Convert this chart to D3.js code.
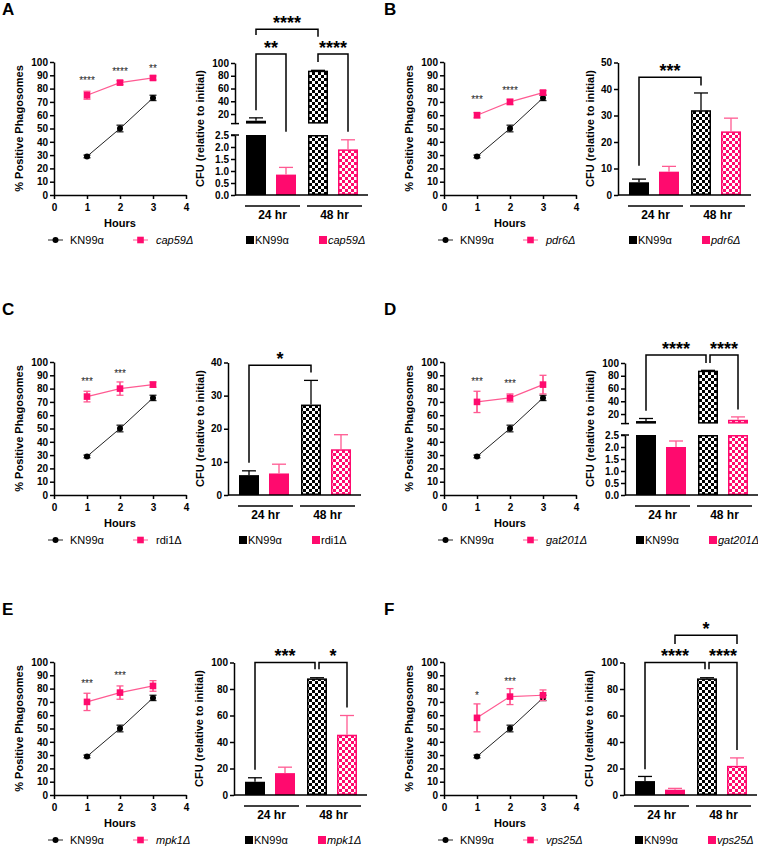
<!DOCTYPE html>
<html>
<head>
<meta charset="utf-8">
<script src="https://cdn.jsdelivr.net/npm/d3@7"></script>
<style>
  body { margin: 0; background: #fff; }
  svg text { font-family: "Liberation Sans", Arial, sans-serif; }
</style>
</head>
<body>
<svg id="fig" width="758" height="848"></svg>
<script>
// ---- data ----
const hours = [1, 2, 3];
const hourTicks = [0, 1, 2, 3, 4];
const wtLabel = "KN99α";
const mutantLabels = ["cap59Δ", "pdr6Δ", "rdi1Δ", "gat201Δ", "mpk1Δ", "vps25Δ"];
const mutantItalic = [true, true, false, true, true, true];

// % positive phagosomes (mean, sd)
const wtPhago = [29, 50, 73];
const wtPhagoSd = [1, 2.5, 2];
const mutPhago = [
  [75, 84.5, 88],
  [60, 70, 77],
  [74, 80, 83],
  [70, 73, 83],
  [70, 77, 82],
  [58, 74, 75]
];
const mutPhagoSd = [
  [3, 1.5, 1.5],
  [2, 2, 1.5],
  [4, 5, 2],
  [8, 3, 7],
  [6.5, 5, 4],
  [10.5, 6, 4]
];
const phagoStars = [
  ["****", "****", "**"],
  ["***", "****", ""],
  ["***", "***", ""],
  ["***", "***", ""],
  ["***", "***", ""],
  ["*", "***", ""]
];
const phagoStarY = [
  [86.5, 93, 95.5],
  [72, 79, 0],
  [86, 92, 0],
  [86, 84, 0],
  [84, 90, 0],
  [75, 86, 0]
];

// CFU, order: KN99α 24 hr, mutant 24 hr, KN99α 48 hr, mutant 48 hr
const timepoints = ["24 hr", "48 hr"];
const cfuMean = [
  [9.5, 0.85, 88, 1.9],
  [4.8, 8.8, 32, 24],
  [6, 6.5, 27.3, 13.8],
  [9, 2.0, 88, 11],
  [10, 16.5, 88, 45.5],
  [10.5, 4, 88, 22]
];
const cfuSd = [
  [4.5, 0.3, 0.5, 0.4],
  [1.2, 2, 6.5, 5],
  [1.3, 2.8, 7.3, 4.4],
  [4, 0.25, 0.5, 4.5],
  [3, 4.5, 0.5, 14.5],
  [3.5, 1, 0.5, 6]
];
const cfuBrackets = [
  [{from: 0, to: 2, line: 153, legs: [144, 141], text: "****"},
   {from: 0, to: 1, line: 114, legs: [26, 3.2], text: "**"},
   {from: 2, to: 3, line: 114, legs: [101.5, 3.2], text: "****"}],
  [{from: 0, to: 2, line: 44.4, legs: [11, 41.3], text: "***"}],
  [{from: 0, to: 2, line: 39.2, legs: [9.7, 37], text: "*"}],
  [{from: 0, to: 2, line: 112.5, legs: [25, 100], text: "****"},
   {from: 2, to: 3, line: 112.5, legs: [100, 27], text: "****"}],
  [{from: 0, to: 2, line: 100, legs: [19, 95], text: "***"},
   {from: 2, to: 3, line: 100, legs: [95, 66], text: "*"}],
  [{from: 0, to: 2, line: 100, legs: [19.5, 95], text: "****"},
   {from: 2, to: 3, line: 100, legs: [95, 34], text: "****"},
   {from: 1, to: 3, line: 120.5, legs: [114, 114], text: "*"}]
];

// ---- layout ----
const panels = [
  {letter: "A", col: 0, row: 0, barX: 235, broken: true, titleOff: 35},
  {letter: "B", col: 1, row: 0, barX: 618, yMax: 50, step: 10, titleOff: 28},
  {letter: "C", col: 0, row: 1, barX: 228, yMax: 40, step: 10, titleOff: 28},
  {letter: "D", col: 1, row: 1, barX: 625, broken: true, titleOff: 35},
  {letter: "E", col: 0, row: 2, barX: 234, yMax: 100, step: 20, titleOff: 35},
  {letter: "F", col: 1, row: 2, barX: 624, yMax: 100, step: 20, titleOff: 35}
];

const pink = "#ff0a6e";
const pinkLight = "#ff5a92";
const font = "'Liberation Sans', Arial, sans-serif";

const svg = d3.select("#fig");
const defs = svg.append("defs");

function checker(id, color) {
  const pat = defs.append("pattern")
    .attr("id", id)
    .attr("patternUnits", "userSpaceOnUse")
    .attr("width", 6).attr("height", 6);
  pat.append("rect").attr("width", 6).attr("height", 6).attr("fill", "#fff");
  pat.append("rect").attr("width", 3).attr("height", 3).attr("fill", color);
  pat.append("rect").attr("x", 3).attr("y", 3).attr("width", 3).attr("height", 3).attr("fill", color);
}
checker("chkBlack", "#000");
checker("chkPink", pink);

function styleAxis(g) {
  g.attr("font-family", font);
  g.select(".domain").attr("stroke-width", 1.5);
  g.selectAll(".tick line").attr("stroke-width", 1.5);
  g.selectAll(".tick text")
    .attr("font-size", 10)
    .attr("font-weight", "bold")
    .attr("fill", "#000");
}

function errBar(g, x, y1, y2, color, half) {
  g.append("line").attr("x1", x).attr("x2", x).attr("y1", y1).attr("y2", y2)
    .attr("stroke", color).attr("stroke-width", 1.3);
  g.append("line").attr("x1", x - half).attr("x2", x + half).attr("y1", y2).attr("y2", y2)
    .attr("stroke", color).attr("stroke-width", 1.3);
}

function drawLineChart(p, i) {
  const top = p.row * 300;
  const ax = 54 + p.col * 390;
  const bottom = top + 195;
  const g = svg.append("g");

  const x = d3.scaleLinear().domain([0, 4]).range([ax, ax + 132]);
  const y = d3.scaleLinear().domain([0, 100]).range([bottom, top + 62]);

  g.append("g")
    .attr("transform", `translate(0, ${bottom})`)
    .call(d3.axisBottom(x).tickValues(hourTicks).tickFormat(d3.format("d"))
      .tickSize(4).tickSizeOuter(0).tickPadding(5))
    .call(styleAxis);
  g.append("g")
    .attr("transform", `translate(${ax}, 0)`)
    .call(d3.axisLeft(y).tickValues(d3.range(0, 101, 10)).tickFormat(d3.format("d"))
      .tickSize(4).tickSizeOuter(0).tickPadding(2))
    .call(styleAxis);

  const wt = hours.map((h, k) => ({h, m: wtPhago[k], sd: wtPhagoSd[k]}));
  const mu = hours.map((h, k) => ({h, m: mutPhago[i][k], sd: mutPhagoSd[i][k]}));
  const line = d3.line().x(d => x(d.h)).y(d => y(d.m));

  // KN99α
  g.append("path").attr("d", line(wt)).attr("fill", "none").attr("stroke", "#222").attr("stroke-width", 1);
  wt.forEach(d => errBar(g, x(d.h), y(d.m - d.sd), y(d.m + d.sd), "#222", 3.5));
  wt.forEach(d => errBar(g, x(d.h), y(d.m + d.sd), y(d.m - d.sd), "#222", 3.5));
  g.selectAll(".wt").data(wt).join("circle")
    .attr("cx", d => x(d.h)).attr("cy", d => y(d.m)).attr("r", 3).attr("fill", "#000");

  // mutant
  g.append("path").attr("d", line(mu)).attr("fill", "none").attr("stroke", pinkLight).attr("stroke-width", 1.2);
  mu.forEach(d => errBar(g, x(d.h), y(d.m - d.sd), y(d.m + d.sd), pinkLight, 3.5));
  mu.forEach(d => errBar(g, x(d.h), y(d.m + d.sd), y(d.m - d.sd), pinkLight, 3.5));
  g.selectAll(".mu").data(mu).join("rect")
    .attr("x", d => x(d.h) - 3.3).attr("y", d => y(d.m) - 3.3)
    .attr("width", 6.6).attr("height", 6.6).attr("fill", pink);

  // stars
  hours.forEach((h, k) => {
    if (!phagoStars[i][k]) return;
    g.append("text")
      .attr("x", x(h)).attr("y", y(phagoStarY[i][k]) + 4)
      .attr("text-anchor", "middle").attr("font-size", 10).attr("fill", "#222")
      .text(phagoStars[i][k]);
  });

  // titles
  g.append("text").attr("x", x(2)).attr("y", bottom + 32)
    .attr("text-anchor", "middle").attr("font-size", 11).attr("font-weight", "bold").text("Hours");
  g.append("text")
    .attr("transform", `translate(${ax - 35}, ${(bottom + top + 62) / 2}) rotate(-90)`)
    .attr("text-anchor", "middle").attr("dy", "0.35em")
    .attr("font-size", 11).attr("font-weight", "bold").text("% Positive Phagosomes");

  // legend
  const ly = bottom + 45;
  g.append("line").attr("x1", ax - 6).attr("x2", ax + 9).attr("y1", ly).attr("y2", ly).attr("stroke", "#222");
  g.append("circle").attr("cx", ax + 1.5).attr("cy", ly).attr("r", 3).attr("fill", "#000");
  g.append("text").attr("x", ax + 16).attr("y", ly).attr("dy", "0.35em").attr("font-size", 11).text(wtLabel);
  g.append("line").attr("x1", ax + 79).attr("x2", ax + 94).attr("y1", ly).attr("y2", ly).attr("stroke", pinkLight);
  g.append("rect").attr("x", ax + 83.2).attr("y", ly - 3.3).attr("width", 6.6).attr("height", 6.6).attr("fill", pink);
  g.append("text").attr("x", ax + 102).attr("y", ly).attr("dy", "0.35em").attr("font-size", 11)
    .attr("font-style", mutantItalic[i] ? "italic" : "normal").text(mutantLabels[i]);

  // panel letter
  svg.append("text").attr("x", 2 + p.col * 382).attr("y", top + 15)
    .attr("font-size", 17).attr("font-weight", "bold").text(p.letter);
}

function drawBarChart(p, i) {
  const top = p.row * 300;
  const bx = p.barX;
  const bottom = top + 195;
  const g = svg.append("g");

  const xg = d3.scaleBand().domain(timepoints).range([bx + 5, bx + 129]);
  const xs = d3.scaleBand().domain([0, 1]).range([0, xg.bandwidth()]).paddingInner(1 / 3).paddingOuter(0.2);
  const barX = k => xg(timepoints[k >> 1]) + xs(k % 2);
  const barC = k => barX(k) + xs.bandwidth() / 2;

  let y;
  if (p.broken) {
    const lower = d3.scaleLinear().domain([0, 2.5]).range([bottom, top + 135]);
    const upper = d3.scaleLinear().domain([5, 100]).range([top + 123.6, top + 63]);
    const gap = d3.scaleLinear().domain([2.5, 5]).range([lower(2.5), upper(5)]);
    y = v => v <= 2.5 ? lower(v) : (v >= 5 ? upper(v) : gap(v));

    g.append("g").attr("transform", `translate(${bx}, 0)`)
      .call(d3.axisLeft(lower).tickValues(d3.range(0, 2.51, 0.5)).tickFormat(d3.format(".1f"))
        .tickSize(4).tickSizeOuter(0).tickPadding(2))
      .call(styleAxis);
    g.append("g").attr("transform", `translate(${bx}, 0)`)
      .call(d3.axisLeft(upper).tickValues(d3.range(20, 101, 20)).tickFormat(d3.format("d"))
        .tickSize(4).tickSizeOuter(0).tickPadding(2))
      .call(styleAxis);
    [lower(2.5), upper(5)].forEach(yy => {
      g.append("line").attr("x1", bx - 4).attr("x2", bx + 4).attr("y1", yy).attr("y2", yy)
        .attr("stroke", "#000").attr("stroke-width", 1.5);
    });
  } else {
    y = d3.scaleLinear().domain([0, p.yMax]).range([bottom, top + 62.5]);
    g.append("g").attr("transform", `translate(${bx}, 0)`)
      .call(d3.axisLeft(y).tickValues(d3.range(0, p.yMax + 0.1, p.step)).tickFormat(d3.format("d"))
        .tickSize(4).tickSizeOuter(0).tickPadding(2))
      .call(styleAxis);
  }

  // bars
  const fills = ["#000", pink, "url(#chkBlack)", "url(#chkPink)"];
  const strokes = ["#000", pink, "#000", pink];
  const errCol = ["#000", pinkLight, "#000", pinkLight];
  cfuMean[i].forEach((v, k) => {
    const pieces = [];
    if (p.broken) {
      pieces.push([0, Math.min(v, 2.5)]);
      if (v >= 5) pieces.push([5, v]);
    } else {
      pieces.push([0, v]);
    }
    const hatched = k >= 2;
    pieces.forEach(([a, b]) => {
      g.append("rect")
        .attr("x", barX(k) + (hatched ? 0.75 : 0))
        .attr("width", xs.bandwidth() - (hatched ? 1.5 : 0))
        .attr("y", y(b) + (hatched ? 0.75 : 0))
        .attr("height", Math.max(0, y(a) - y(b) - (hatched ? 1.5 : 0)))
        .attr("fill", fills[k])
        .attr("stroke", hatched ? strokes[k] : "none")
        .attr("stroke-width", 1.5);
    });
    errBar(g, barC(k), y(v), y(v + cfuSd[i][k]), errCol[k], 7);
  });

  // x axis line and group lines
  g.append("line").attr("x1", bx).attr("x2", bx + 133).attr("y1", bottom).attr("y2", bottom)
    .attr("stroke", "#000").attr("stroke-width", 1.5);
  timepoints.forEach(t => {
    const x0 = xg(t) + 5, x1 = xg(t) + xg.bandwidth() - 2;
    g.append("line").attr("x1", x0).attr("x2", x1).attr("y1", bottom + 11).attr("y2", bottom + 11)
      .attr("stroke", "#000").attr("stroke-width", 1.5);
    g.append("text").attr("x", (x0 + x1) / 2).attr("y", bottom + 24)
      .attr("text-anchor", "middle").attr("font-size", 12).attr("font-weight", "bold").text(t);
  });

  // significance brackets
  const br = cfuBrackets[i];
  br.forEach(b => {
    let xa = barC(b.from), xb = barC(b.to);
    br.forEach(o => {
      if (o === b || o.line !== b.line) return;
      if (o.from === b.to) xb -= 2;
      if (o.to === b.from) xa += 2;
    });
    const yl = y(b.line);
    g.append("path")
      .attr("d", `M${xa},${y(b.legs[0])}V${yl}H${xb}V${y(b.legs[1])}`)
      .attr("fill", "none").attr("stroke", "#000").attr("stroke-width", 1.5);
    g.append("text").attr("x", (xa + xb) / 2).attr("y", yl - 0.5)
      .attr("text-anchor", "middle").attr("font-size", 18).attr("font-weight", "bold").text(b.text);
  });

  // y title
  g.append("text")
    .attr("transform", `translate(${bx - p.titleOff}, ${(bottom + top + 62) / 2}) rotate(-90)`)
    .attr("text-anchor", "middle").attr("dy", "0.35em")
    .attr("font-size", 11).attr("font-weight", "bold").text("CFU (relative to initial)");

  // legend
  const ly = bottom + 45;
  g.append("rect").attr("x", bx + 11).attr("y", ly - 4).attr("width", 8).attr("height", 8).attr("fill", "#000");
  g.append("text").attr("x", bx + 20).attr("y", ly).attr("dy", "0.35em").attr("font-size", 11).text(wtLabel);
  g.append("rect").attr("x", bx + 84).attr("y", ly - 4).attr("width", 8).attr("height", 8).attr("fill", pink);
  g.append("text").attr("x", bx + 93).attr("y", ly).attr("dy", "0.35em").attr("font-size", 11)
    .attr("font-style", mutantItalic[i] ? "italic" : "normal").text(mutantLabels[i]);
}

panels.forEach((p, i) => {
  drawLineChart(p, i);
  drawBarChart(p, i);
});
</script>
</body>
</html>
